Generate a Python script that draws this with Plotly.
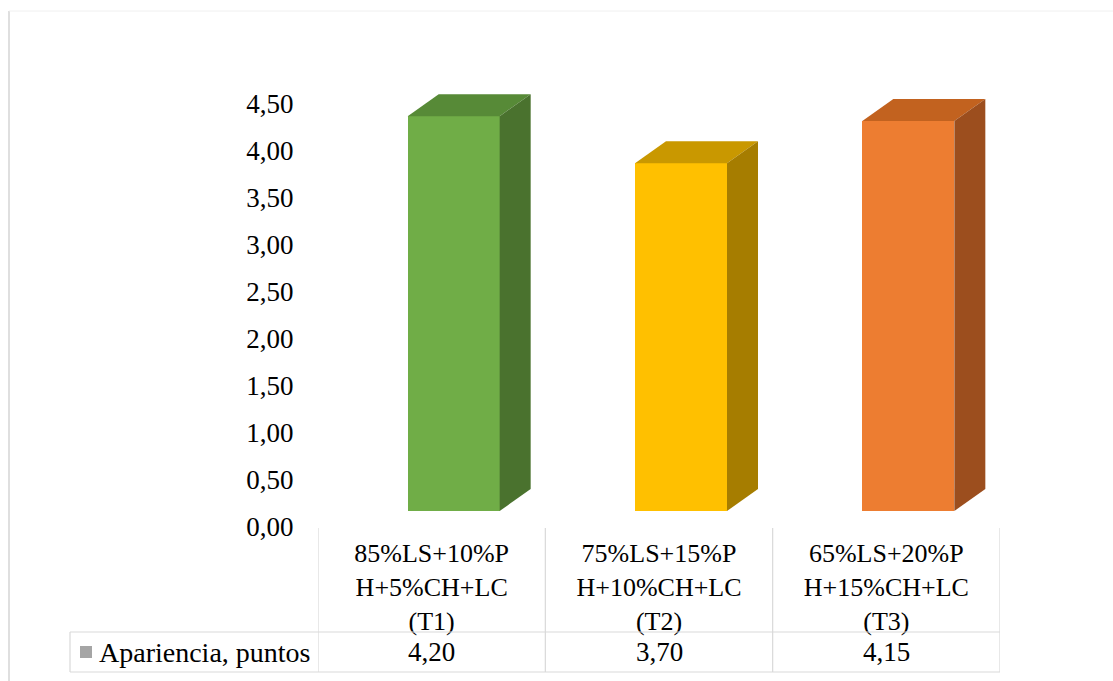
import plotly.graph_objects as go

# Chart data
categories = ["85%LS+10%P<br>H+5%CH+LC<br>(T1)",
              "75%LS+15%P<br>H+10%CH+LC<br>(T2)",
              "65%LS+20%P<br>H+15%CH+LC<br>(T3)"]
series_name = "Apariencia, puntos"
values = [4.20, 3.70, 4.15]
y_ticks = [0, 0.5, 1.0, 1.5, 2.0, 2.5, 3.0, 3.5, 4.0, 4.5]

# Face colours for each 3D column: front, top, side
front_colors = ["#70AD47", "#FFC000", "#ED7D31"]
top_colors = ["#578A37", "#C99800", "#C2621F"]
side_colors = ["#4A722E", "#A67D00", "#9C4E1E"]

W, H = 1113, 681
FONT = "Liberation Serif"


def px_x(p):
    return p / W


def px_y(p):
    return 1 - p / H


# Plot geometry (pixels)
x_left, x_right = 318, 1000
y_top, floor_px = 60, 511
unit_px = 94.0
cat_px = (x_right - x_left) / 3.0

y_range = [0, (floor_px - y_top) / unit_px]

bar_width = 92 / cat_px
bar_offset = -24 / cat_px
depth_dx = 31 / cat_px
depth_dy = 22 / unit_px

fig = go.Figure()

# Front faces
fig.add_trace(go.Bar(
    x=[0, 1, 2], y=values, width=bar_width, offset=bar_offset,
    marker=dict(color=front_colors, line=dict(width=0)),
    name=series_name, showlegend=False, hoverinfo="skip",
))

# Top and side faces
for i, v in enumerate(values):
    xl = i + bar_offset
    xr = xl + bar_width
    fig.add_trace(go.Scatter(
        x=[xl, xr, xr + depth_dx, xl + depth_dx, xl],
        y=[v, v, v + depth_dy, v + depth_dy, v],
        fill="toself", fillcolor=top_colors[i], mode="lines",
        line=dict(width=0, color=top_colors[i]),
        showlegend=False, hoverinfo="skip",
    ))
    fig.add_trace(go.Scatter(
        x=[xr, xr, xr + depth_dx, xr + depth_dx, xr],
        y=[0, v, v + depth_dy, depth_dy, 0],
        fill="toself", fillcolor=side_colors[i], mode="lines",
        line=dict(width=0, color=side_colors[i]),
        showlegend=False, hoverinfo="skip",
    ))

grid_col = "#D9D9D9"
shapes = []
# Outer chart border
shapes.append(dict(type="line", xref="paper", yref="paper",
                   x0=px_x(9), x1=px_x(9), y0=px_y(11), y1=px_y(H + 5),
                   line=dict(color="#D4D4D4", width=1.5)))
shapes.append(dict(type="line", xref="paper", yref="paper",
                   x0=px_x(9), x1=px_x(W + 5), y0=px_y(11), y1=px_y(11),
                   line=dict(color="#F0F0F0", width=1)))
# Data table lines
for xv in [-0.5, 0.5, 1.5, 2.5]:
    shapes.append(dict(type="line", xref="x", yref="paper",
                       x0=xv, x1=xv, y0=px_y(528), y1=px_y(672),
                       line=dict(color=grid_col, width=1.2)))
for yv in [632, 672]:
    shapes.append(dict(type="line", xref="paper", yref="paper",
                       x0=px_x(70), x1=px_x(x_right), y0=px_y(yv), y1=px_y(yv),
                       line=dict(color=grid_col, width=1.2)))
shapes.append(dict(type="line", xref="paper", yref="paper",
                   x0=px_x(70), x1=px_x(70), y0=px_y(632), y1=px_y(672),
                   line=dict(color=grid_col, width=1.2)))
# Legend key
shapes.append(dict(type="rect", xref="paper", yref="paper",
                   x0=px_x(80), x1=px_x(92), y0=px_y(658), y1=px_y(646),
                   fillcolor="#A5A5A5", line=dict(width=0)))

annotations = []
annotations.append(dict(xref="paper", yref="paper", x=px_x(97), y=px_y(652),
                        text=series_name, showarrow=False, xanchor="left",
                        yanchor="middle",
                        font=dict(family=FONT, size=28, color="#000")))
for i, v in enumerate(values):
    annotations.append(dict(xref="x", yref="paper", x=i, y=px_y(652),
                            text=f"{v:.2f}".replace(".", ","), showarrow=False,
                            xanchor="center", yanchor="middle",
                            font=dict(family=FONT, size=27, color="#000")))

fig.update_layout(
    template="none",
    width=W, height=H,
    margin=dict(l=0, r=0, t=0, b=0, autoexpand=False),
    paper_bgcolor="white", plot_bgcolor="white",
    font=dict(family=FONT, size=27, color="#000"),
    separators=",.",
    showlegend=False,
    bargap=0,
    xaxis=dict(domain=[px_x(x_left), px_x(x_right)], range=[-0.5, 2.5],
               tickvals=[0, 1, 2], ticktext=categories,
               showgrid=False, zeroline=False, showline=False,
               ticks="outside", ticklen=19, tickcolor="rgba(0,0,0,0)",
               automargin=False,
               tickfont=dict(family=FONT, size=26, color="#000"),
               fixedrange=True),
    yaxis=dict(domain=[px_y(floor_px), px_y(y_top)], range=y_range,
               tickvals=y_ticks, tickformat=".2f",
               showgrid=False, zeroline=False, showline=False,
               ticks="outside", ticklen=18, tickcolor="rgba(0,0,0,0)",
               ticklabelshift=16, automargin=False,
               tickfont=dict(family=FONT, size=27, color="#000"),
               fixedrange=True),
    shapes=shapes,
    annotations=annotations,
)

fig.write_html("out.html")
